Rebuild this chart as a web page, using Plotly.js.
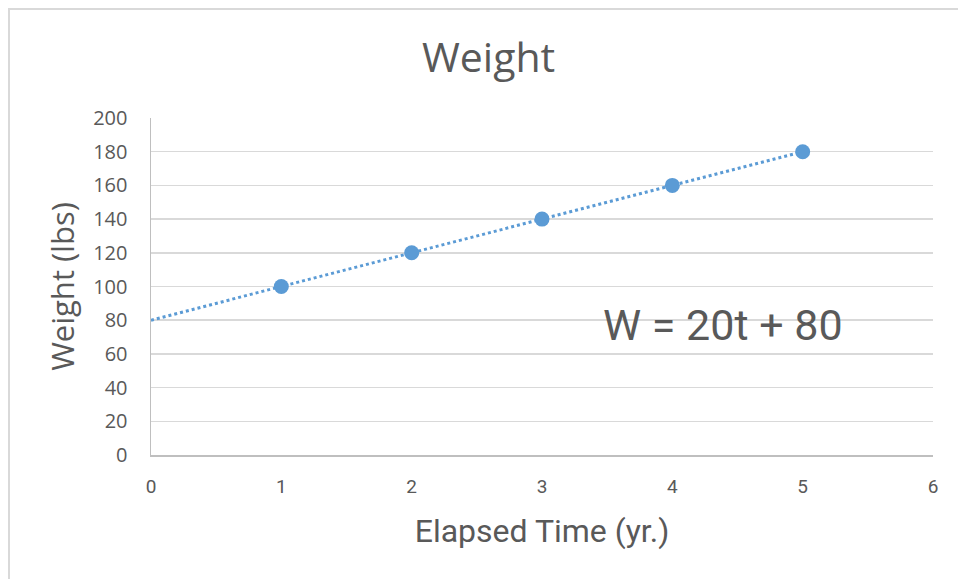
<!DOCTYPE html>
<html>
<head>
<meta charset="utf-8">
<script src="https://cdn.plot.ly/plotly-3.0.1.min.js"></script>
<style>
  html, body { margin: 0; padding: 0; background: #ffffff; }
  #wrap { position: relative; width: 958px; height: 579px; overflow: hidden; }
  #chart { position: absolute; left: 0; top: 0; width: 958px; height: 579px; }
  #frame { position: absolute; left: 8px; top: 8px; width: 990px; height: 620px;
           border: 2px solid #d9d9d9; box-sizing: border-box; pointer-events: none; }
</style>
</head>
<body>
<div id="wrap">
  <div id="chart"></div>
  <div id="frame"></div>
</div>
<script>
// Data
const years = [1, 2, 3, 4, 5];
const weights = [100, 120, 140, 160, 180];
const trendYears = [0, 5];
const trendWeights = [80, 180];
const xTicks = [0, 1, 2, 3, 4, 5, 6];
const yTicks = [0, 20, 40, 60, 80, 100, 120, 140, 160, 180, 200];
const equationText = "W = 20t + 80";
const equationPos = [4.39, 77];

const blue = "#5b9bd5";
const grey = "#595959";

const traces = [
  {
    x: trendYears, y: trendWeights, type: "scatter", mode: "lines",
    line: { color: blue, width: 3, dash: "dot" }, hoverinfo: "skip", showlegend: false
  },
  {
    x: years, y: weights, type: "scatter", mode: "markers",
    marker: { color: blue, size: 15 }, showlegend: false
  }
];

const layout = {
  width: 958, height: 579,
  margin: { l: 151, r: 25, t: 118, b: 124 },
  paper_bgcolor: "#ffffff", plot_bgcolor: "#ffffff",
  title: {
    text: "Weight", x: 0.51, xanchor: "center", y: 0.9, yanchor: "middle",
    font: { family: "Open Sans", size: 41, color: grey }
  },
  xaxis: {
    range: [0, 6], tickvals: xTicks, ticktext: xTicks.map(String),
    showgrid: false, zeroline: false, showline: true, linecolor: "#bfbfbf", linewidth: 1.5,
    ticks: "", ticklabelstandoff: 14,
    tickfont: { family: "Roboto", size: 19, color: grey },
    title: { text: "Elapsed Time (yr.)", standoff: 22, font: { family: "Roboto", size: 32, color: grey } }
  },
  yaxis: {
    range: [0, 200], tickvals: yTicks, ticktext: yTicks.map(String),
    showgrid: true, gridcolor: "#d9d9d9", gridwidth: 1.5, zeroline: false,
    showline: true, linecolor: "#bfbfbf", linewidth: 1.5,
    ticks: "", ticklabelstandoff: 18,
    tickfont: { family: "Open Sans", size: 20, color: grey },
    title: { text: "Weight (lbs)", standoff: 9, font: { family: "Open Sans", size: 31, color: grey } }
  },
  annotations: [
    {
      x: equationPos[0], y: equationPos[1], xref: "x", yref: "y", text: equationText,
      showarrow: false, xanchor: "center", yanchor: "middle",
      font: { family: "Roboto", size: 43, color: grey }
    }
  ]
};

Plotly.newPlot("chart", traces, layout, { displayModeBar: false, staticPlot: true });
</script>
</body>
</html>
